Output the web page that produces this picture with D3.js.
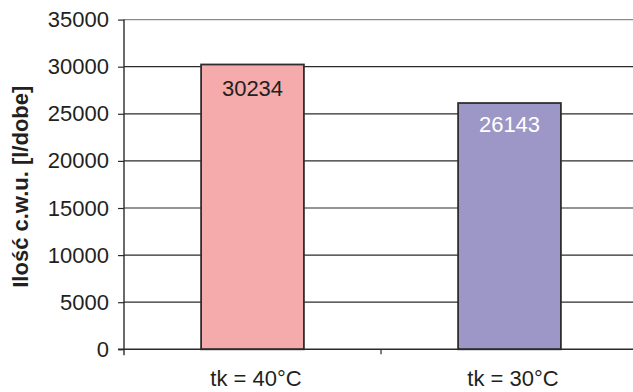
<!DOCTYPE html>
<html>
<head>
<meta charset="utf-8">
<script src="https://cdn.jsdelivr.net/npm/d3@7"></script>
<style>
  html, body { margin: 0; padding: 0; background: #fff; }
  svg { display: block; font-family: "Liberation Sans", Arial, sans-serif; }
</style>
</head>
<body>
<svg id="chart" width="633" height="392"></svg>
<script>
// Daily hot-water demand for two outlet temperatures
const categories = ["tk = 40°C", "tk = 30°C"];
const values = [30234, 26143];
const barColors = ["#F5AAAB", "#9D97C8"];
const labelColors = ["#231F20", "#FFFFFF"];
const yTicks = [0, 5000, 10000, 15000, 20000, 25000, 30000, 35000];
const yTitle = "Ilość c.w.u. [l/dobe]";

const svg = d3.select("#chart");
const plotLeft = 124, plotRight = 638, plotTop = 19.6, plotBottom = 349.3;

const x = d3.scaleBand().domain(categories).range([plotLeft, plotRight])
  .paddingInner(0.6).paddingOuter(0.3);
const y = d3.scaleLinear().domain([0, 35000]).range([plotBottom, plotTop]);

// horizontal gridlines
svg.append("g").selectAll("line").data(yTicks.filter(d => d > 0)).join("line")
  .attr("x1", plotLeft).attr("x2", 633)
  .attr("y1", d => y(d)).attr("y2", d => y(d))
  .attr("stroke", d => d === 35000 ? "#8a8a8a" : "#2b2b2b")
  .attr("stroke-width", 1.2);

// y axis
const yAxis = d3.axisLeft(y).tickValues(yTicks).tickSize(6).tickPadding(9)
  .tickFormat(d3.format("d"));
const gy = svg.append("g").attr("transform", `translate(${plotLeft},0)`).call(yAxis);
gy.select(".domain").remove();
gy.selectAll(".tick line").attr("stroke", "#2b2b2b").attr("stroke-width", 1.2);
gy.selectAll(".tick text").attr("font-size", 22).attr("fill", "#231F20")
  .attr("font-family", "Liberation Sans, Arial, sans-serif");
svg.append("line").attr("x1", plotLeft).attr("x2", plotLeft)
  .attr("y1", plotTop).attr("y2", plotBottom + 6)
  .attr("stroke", "#2b2b2b").attr("stroke-width", 1.4);

// bars
svg.append("g").selectAll("rect").data(values).join("rect")
  .attr("x", (d, i) => x(categories[i]))
  .attr("y", d => y(d))
  .attr("width", x.bandwidth())
  .attr("height", d => y(0) - y(d))
  .attr("fill", (d, i) => barColors[i])
  .attr("stroke", "#2e2e2e").attr("stroke-width", 1.8);

// value labels inside bar tops
svg.append("g").selectAll("text").data(values).join("text")
  .attr("x", (d, i) => x(categories[i]) + x.bandwidth() / 2)
  .attr("y", (d, i) => y(d) + (i === 0 ? 32 : 29))
  .attr("text-anchor", "middle")
  .attr("font-size", 22)
  .attr("fill", (d, i) => labelColors[i])
  .text(d => d);

// x axis
const xAxis = d3.axisBottom(x).tickSize(0).tickPadding(0);
const gx = svg.append("g").attr("transform", `translate(0,${plotBottom})`).call(xAxis);
gx.select(".domain").remove();
gx.selectAll(".tick text").attr("font-size", 22).attr("fill", "#231F20")
  .attr("dy", 0).attr("y", 37).attr("dx", 3.5)
  .attr("font-family", "Liberation Sans, Arial, sans-serif");
svg.append("line").attr("x1", plotLeft - 6).attr("x2", 633)
  .attr("y1", plotBottom).attr("y2", plotBottom)
  .attr("stroke", "#2b2b2b").attr("stroke-width", 1.4);
// category separator tick
const sepX = (x(categories[0]) + x.bandwidth() + x(categories[1])) / 2;
svg.append("line")
  .attr("x1", sepX).attr("x2", sepX)
  .attr("y1", plotBottom).attr("y2", plotBottom + 5)
  .attr("stroke", "#2b2b2b").attr("stroke-width", 1.2);

// y axis title
svg.append("text")
  .attr("transform", `translate(28,${(81.7 + 291.7) / 2}) rotate(-90)`)
  .attr("text-anchor", "middle")
  .attr("font-size", 22).attr("font-weight", "bold").attr("fill", "#231F20")
  .text(yTitle);
</script>
</body>
</html>
